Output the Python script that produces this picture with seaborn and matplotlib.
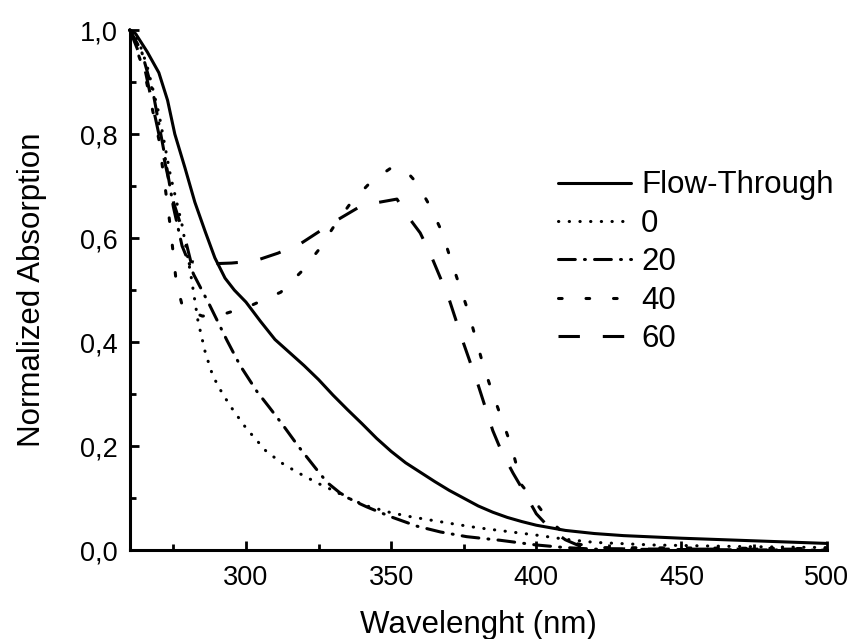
import numpy as np
import pandas as pd
import seaborn as sns
import matplotlib.pyplot as plt

# espectros normalizados
wl_ft = [260, 262, 266, 270, 273, 275.5, 279, 282.4, 286, 289.3, 292.8, 296, 300, 305, 310,
         315, 320, 325, 330, 335, 340, 345, 350, 355, 360, 365, 370, 375, 380, 385, 390,
         395, 400, 410, 420, 430, 450, 475, 500]
abs_ft = [1.0, 0.993, 0.958, 0.918, 0.865, 0.80, 0.735, 0.669, 0.612, 0.562, 0.523, 0.50,
          0.477, 0.44, 0.405, 0.38, 0.355, 0.328, 0.298, 0.27, 0.243, 0.215, 0.19, 0.168,
          0.15, 0.132, 0.115, 0.10, 0.085, 0.073, 0.063, 0.055, 0.048, 0.038, 0.032, 0.028,
          0.023, 0.018, 0.013]

wl_0 = [260, 263, 266, 270, 274, 278, 281, 283.5, 286, 288.6, 292, 295.5, 300, 307, 313,
        318.6, 325, 330, 336, 341.7, 350, 357, 364.5, 372, 380, 390, 400, 410, 420, 440,
        470, 500]
abs_0 = [1.0, 0.98, 0.93, 0.84, 0.72, 0.625, 0.53, 0.44, 0.38, 0.335, 0.30, 0.27, 0.235,
         0.19, 0.165, 0.147, 0.128, 0.115, 0.098, 0.085, 0.072, 0.064, 0.057, 0.05, 0.043,
         0.036, 0.029, 0.021, 0.015, 0.01, 0.007, 0.005]

wl_20 = [260, 264, 268, 272, 275, 278, 282, 287.6, 293.4, 298, 303.8, 308, 312.8, 318,
         324.5, 328, 332.4, 337, 341.7, 350, 359, 367, 376, 387.6, 400, 410, 420, 500]
abs_20 = [1.0, 0.96, 0.88, 0.76, 0.66, 0.585, 0.53, 0.47, 0.404, 0.355, 0.305, 0.275, 0.24,
          0.20, 0.154, 0.13, 0.11, 0.095, 0.083, 0.064, 0.046, 0.035, 0.026, 0.019, 0.01,
          0.005, 0.002, 0.0]

wl_40 = [260, 265, 270, 274, 276, 278.3, 285, 293, 302, 312, 319, 325, 330, 336, 343, 350,
         355, 359, 363.4, 367.5, 370.3, 373.4, 376.5, 379, 381.7, 384.8, 388, 391.4, 395,
         400, 404, 408, 412, 420, 500]
abs_40 = [1.0, 0.92, 0.79, 0.62, 0.515, 0.465, 0.45, 0.455, 0.471, 0.496, 0.535, 0.577, 0.62,
          0.667, 0.708, 0.735, 0.73, 0.705, 0.661, 0.612, 0.563, 0.511, 0.46, 0.41, 0.356,
          0.304, 0.254, 0.2, 0.125, 0.09, 0.06, 0.04, 0.015, 0.005, 0.003]

wl_60 = [260, 265, 270, 275, 279, 281, 285, 295, 303, 311, 319, 330, 340, 347, 352, 356,
         360, 363.4, 369.7, 374.8, 380, 385, 388, 392, 396, 400, 405, 410, 415, 420, 440, 500]
abs_60 = [1.0, 0.93, 0.80, 0.67, 0.60, 0.555, 0.55, 0.552, 0.556, 0.571, 0.59, 0.63, 0.663,
          0.67, 0.675, 0.64, 0.61, 0.571, 0.487, 0.40, 0.317, 0.23, 0.19, 0.148, 0.11, 0.07,
          0.04, 0.02, 0.008, 0.003, 0.002, 0.002]

series = [
    ("Flow-Through", wl_ft, abs_ft, "-", "butt"),
    ("0", wl_0, abs_0, (0, (0.1, 3.4)), "round"),
    ("20", wl_20, abs_20, (0, (5.5, 3.0, 0.3, 3.0)), "round"),
    ("40", wl_40, abs_40, (0, (1.2, 7.8)), "round"),
    ("60", wl_60, abs_60, (0, (7.0, 7.5)), "butt"),
]

sns.set_style("ticks")
plt.rcParams['font.family'] = ['Liberation Sans', 'DejaVu Sans']
plt.rcParams['text.color'] = 'black'
plt.rcParams['axes.labelcolor'] = 'black'

fig = plt.figure(figsize=(8.54, 6.39), dpi=100)
ax = fig.add_axes([0.152, 0.139, 0.816, 0.814])

for nombre, x, y, ls, cap in series:
    sns.lineplot(x=x, y=y, ax=ax, color="black", lw=2.2, linestyle=ls,
                 dash_capstyle=cap, label=nombre, clip_on=False, sort=False)

ax.set_xlim(260, 500)
ax.set_ylim(0, 1.0)
ax.set_xticks([300, 350, 400, 450, 500])
ax.set_xticks([275, 325, 375, 425, 475], minor=True)
ax.set_yticks([0, 0.2, 0.4, 0.6, 0.8, 1.0])
ax.set_yticks([0.1, 0.3, 0.5, 0.7, 0.9], minor=True)
ax.set_yticklabels([f"{v:.1f}".replace(".", ",") for v in [0, 0.2, 0.4, 0.6, 0.8, 1.0]])

ax.tick_params(which="major", direction="in", length=6.5, width=2, labelsize=19.5, colors="black")
ax.tick_params(axis="x", which="major", pad=11)
ax.tick_params(axis="y", which="major", pad=8.5)
ax.tick_params(which="minor", direction="in", length=4, width=2, colors="black")
for s in ["left", "bottom"]:
    ax.spines[s].set_linewidth(2.2)
    ax.spines[s].set_color("black")
sns.despine(ax=ax)

ax.set_xlabel("Wavelenght (nm)", fontsize=22.5, labelpad=13)
ax.set_ylabel("Normalized Absorption", fontsize=22.5, labelpad=24)

ax.legend(frameon=False, fontsize=22.5, loc="upper left", bbox_to_anchor=(0.614, 0.73),
          borderpad=0, borderaxespad=0, handlelength=2.35, handletextpad=0.32,
          labelspacing=0.27)

plt.savefig("out.png", dpi=100)
